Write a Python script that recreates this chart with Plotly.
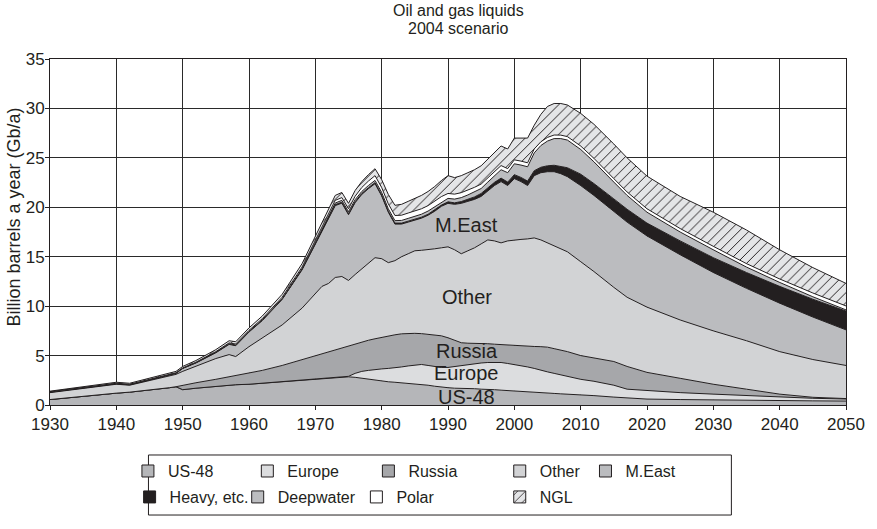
import plotly.graph_objects as go

# Oil and gas liquids production, 2004 scenario (Gb/a), stacked by source
years = [1930, 1935, 1940, 1942, 1945, 1948, 1949, 1950, 1952, 1955, 1957, 1958, 1960, 1962, 1965, 1968,
         1970, 1971, 1972, 1973, 1974, 1975, 1976, 1977, 1978, 1979,
         1980, 1981, 1982, 1983, 1984, 1985, 1986, 1987, 1988, 1989,
         1990, 1991, 1992, 1993, 1994, 1995, 1996, 1997, 1998, 1999,
         2000, 2001, 2002, 2003, 2004, 2005, 2006, 2007, 2008,
         2010, 2012, 2015, 2017, 2020, 2025, 2030, 2035, 2040, 2045, 2050]

us48 = [0.55, 0.9, 1.2, 1.3, 1.5, 1.75, 1.85, 1.55, 1.7, 1.9, 2.0, 2.05, 2.1, 2.2, 2.35, 2.5,
        2.6, 2.65, 2.7, 2.75, 2.8, 2.85, 2.8, 2.7, 2.6, 2.5,
        2.4, 2.35, 2.3, 2.25, 2.2, 2.15, 2.1, 2.0, 1.9, 1.8,
        1.75, 1.7, 1.7, 1.65, 1.65, 1.6, 1.6, 1.55, 1.5, 1.45,
        1.4, 1.38, 1.35, 1.3, 1.25, 1.2, 1.17, 1.13, 1.1,
        1.0, 0.95, 0.8, 0.7, 0.6, 0.55, 0.5, 0.47, 0.45, 0.42, 0.4]

europe = [0, 0, 0, 0, 0, 0, 0, 0, 0, 0, 0, 0, 0, 0, 0, 0,
          0, 0, 0, 0, 0, 0.05, 0.4, 0.7, 0.9, 1.1,
          1.25, 1.35, 1.45, 1.6, 1.75, 1.9, 2.0, 2.0, 2.0, 2.0,
          2.05, 2.2, 2.3, 2.45, 2.55, 2.65, 2.7, 2.75, 2.8, 2.75,
          2.7, 2.62, 2.5, 2.4, 2.25, 2.15, 2.03, 1.92, 1.8,
          1.6, 1.45, 1.2, 0.9, 0.85, 0.7, 0.6, 0.48, 0.35, 0.26, 0.2]

russia = [0, 0, 0, 0, 0, 0, 0, 0.45, 0.55, 0.7, 0.85, 0.9, 1.1, 1.3, 1.65, 2.1,
          2.4, 2.55, 2.7, 2.85, 3.0, 3.05, 2.95, 2.95, 3.05, 3.1,
          3.2, 3.3, 3.35, 3.35, 3.3, 3.2, 3.12, 3.15, 3.2, 3.2,
          3.0, 2.65, 2.3, 2.15, 2.05, 1.95, 1.9, 1.85, 1.8, 1.85,
          1.9, 1.97, 2.1, 2.22, 2.4, 2.5, 2.5, 2.5, 2.5,
          2.4, 2.35, 2.4, 2.3, 1.85, 1.45, 1.0, 0.65, 0.3, 0.1, 0.05]

other = [0.7, 0.8, 0.9, 0.7, 0.95, 1.2, 1.25, 1.4, 1.65, 2.1, 2.25, 1.95, 2.7, 3.3, 4.1, 5.2,
         6.3, 6.8, 6.9, 7.3, 7.2, 6.65, 7.05, 7.45, 7.85, 8.2,
         7.95, 7.4, 7.5, 7.8, 8.05, 8.35, 8.43, 8.55, 8.7, 8.9,
         9.2, 9.15, 9.0, 9.35, 9.65, 10.1, 10.5, 10.45, 10.3, 10.55,
         10.7, 10.78, 10.85, 10.98, 10.8, 10.55, 10.4, 10.25, 10.1,
         9.5, 8.75, 7.5, 7.0, 6.6, 5.9, 5.4, 4.9, 4.3, 3.82, 3.35]

meast = [0.04, 0.02, 0.04, 0.04, 0.07, 0.06, 0.1, 0.29, 0.35, 0.58, 1.03, 1.1, 1.48, 1.74, 2.58, 3.87,
         4.92, 5.56, 6.56, 7.27, 7.42, 6.65, 7.27, 7.5, 7.48, 7.49,
         6.35, 5.1, 3.7, 3.3, 3.2, 3.1, 3.25, 3.5, 3.8, 4.2,
         4.4, 4.6, 5.1, 5.0, 4.9, 4.8, 5.0, 5.6, 6.2, 5.6,
         6.2, 5.85, 5.4, 6.3, 6.8, 7.2, 7.5, 7.6, 7.6,
         7.7, 7.7, 7.7, 7.6, 7.2, 6.6, 5.9, 5.3, 4.9, 4.3, 3.6]

heavy = [0.03, 0.03, 0.03, 0.03, 0.03, 0.03, 0.03, 0.03, 0.04, 0.05, 0.05, 0.05, 0.05, 0.05, 0.05, 0.06,
         0.08, 0.08, 0.1, 0.1, 0.1, 0.1, 0.1, 0.1, 0.1, 0.1,
         0.1, 0.1, 0.1, 0.1, 0.1, 0.1, 0.1, 0.1, 0.12, 0.12,
         0.15, 0.15, 0.18, 0.2, 0.25, 0.3, 0.3, 0.32, 0.35, 0.35,
         0.4, 0.42, 0.45, 0.5, 0.55, 0.6, 0.65, 0.75, 0.9,
         1.15, 1.2, 1.25, 1.3, 1.3, 1.4, 1.5, 1.6, 1.7, 1.8, 1.9]

deepwater = [0, 0, 0, 0, 0, 0, 0, 0, 0, 0.02, 0.02, 0.02, 0.02, 0.02, 0.03, 0.05,
             0.1, 0.12, 0.14, 0.16, 0.18, 0.2, 0.2, 0.2, 0.22, 0.23,
             0.25, 0.25, 0.25, 0.27, 0.28, 0.3, 0.3, 0.32, 0.33, 0.34,
             0.35, 0.38, 0.4, 0.45, 0.5, 0.5, 0.55, 0.7, 0.85, 0.95,
             1.1, 1.25, 1.45, 1.8, 2.2, 2.5, 2.7, 2.8, 2.8,
             2.5, 2.2, 1.7, 1.4, 1.1, 0.9, 0.8, 0.55, 0.4, 0.25, 0.12]

polar = [0.03, 0.03, 0.03, 0.03, 0.03, 0.03, 0.03, 0.03, 0.04, 0.05, 0.08, 0.1, 0.1, 0.12, 0.14, 0.17,
         0.2, 0.22, 0.25, 0.27, 0.28, 0.3, 0.35, 0.4, 0.45, 0.48,
         0.5, 0.5, 0.52, 0.53, 0.54, 0.55, 0.55, 0.55, 0.55, 0.52,
         0.5, 0.5, 0.5, 0.48, 0.47, 0.45, 0.45, 0.43, 0.42, 0.41,
         0.4, 0.4, 0.4, 0.4, 0.38, 0.37, 0.36, 0.35, 0.35,
         0.35, 0.35, 0.35, 0.35, 0.35, 0.35, 0.35, 0.35, 0.35, 0.38, 0.4]

ngl = [0.05, 0.07, 0.1, 0.1, 0.12, 0.13, 0.14, 0.15, 0.17, 0.2, 0.22, 0.23, 0.25, 0.27, 0.3, 0.35,
       0.4, 0.42, 0.45, 0.5, 0.52, 0.55, 0.58, 0.6, 0.65, 0.7,
       0.8, 0.95, 1.03, 1.1, 1.18, 1.25, 1.35, 1.43, 1.5, 1.62,
       1.8, 1.67, 1.72, 1.77, 1.78, 1.85, 1.9, 1.95, 1.98, 1.99,
       2.2, 2.33, 2.5, 2.4, 2.77, 3.13, 3.19, 3.2, 3.2,
       3.3, 3.45, 3.5, 3.45, 3.3, 3.25, 3.45, 3.4, 2.95, 2.57, 2.28]

series_names = ["US-48", "Europe", "Russia", "Other", "M.East",
                "Heavy, etc.", "Deepwater", "Polar", "NGL"]
series_values = [us48, europe, russia, other, meast, heavy, deepwater, polar, ngl]
fill_colors = ["#b5b6b9", "#dcdddf", "#a6a7aa", "#d2d3d5", "#bbbcbf",
               "#231f20", "#bcbdc0", "#ffffff", "#e4e5e7"]

# in-chart region labels: (text, year, value)
region_labels = [("M.East", 1992.8, 18.2), ("Other", 1992.8, 10.9), ("Russia", 1992.8, 5.5),
                 ("Europe", 1992.8, 3.2), ("US-48", 1992.8, 0.85)]

title_lines = ["Oil and gas liquids", "2004 scenario"]
y_title = "Billion barrels a year (Gb/a)"

# legend entry placement (paper x of each entry, row)
legend_x = [0.0979, 0.2479, 0.4000, 0.5650, 0.6727,
            0.1000, 0.2358, 0.3849, 0.5650]
legend_row_y = [-0.191, -0.266]

INK = "#231f20"
FONT = "Liberation Sans, Arial, Helvetica, sans-serif"
NGL_PATTERN = dict(shape="/", fgcolor=INK, size=7, solidity=0.14, fillmode="replace")

fig = go.Figure()

# stacked areas
for name, vals, color in zip(series_names, series_values, fill_colors):
    kw = {}
    if name == "NGL":
        kw["fillpattern"] = dict(NGL_PATTERN, bgcolor=color)
    fig.add_trace(go.Scatter(
        x=years, y=vals, name=name, stackgroup="liquids", mode="lines",
        line=dict(color=INK, width=1.0), fillcolor=color, showlegend=False, **kw))

# square legend swatches, one small legend per entry
legend_layouts = {}
for i, (name, color) in enumerate(zip(series_names, fill_colors)):
    lid = "legend" if i == 0 else f"legend{i + 1}"
    marker = dict(color=color, line=dict(color=INK, width=1))
    if name == "NGL":
        marker["pattern"] = dict(NGL_PATTERN, bgcolor=color)
    fig.add_trace(go.Bar(x=[None], y=[None], name=name, marker=marker, legend=lid))
    legend_layouts[lid] = dict(
        orientation="h", x=legend_x[i], xanchor="left",
        y=legend_row_y[0 if i < 5 else 1], yanchor="middle",
        borderwidth=0, bgcolor="rgba(0,0,0,0)", itemwidth=30,
        font=dict(family=FONT, size=16, color=INK))

for text, xv, yv in region_labels:
    fig.add_annotation(x=xv, y=yv, text=text, showarrow=False,
                       font=dict(family=FONT, size=20, color=INK))

for text, yv in zip(title_lines, [1.139, 1.087]):
    fig.add_annotation(xref="paper", yref="paper", x=0.5131, y=yv, text=text,
                       showarrow=False, yanchor="middle",
                       font=dict(family="Liberation Sans Narrow, Arial Narrow, sans-serif",
                                 size=16, color=INK))

fig.add_annotation(xref="paper", yref="paper", x=-0.0447, y=0.543, text=y_title,
                   textangle=-90, showarrow=False, xanchor="center", yanchor="middle",
                   font=dict(family=FONT, size=18, color=INK))

# frame around both legend rows
fig.add_shape(type="rect", xref="paper", yref="paper", x0=0.1237, x1=0.856, y0=-0.318, y1=-0.1445,
              line=dict(color=INK, width=1), fillcolor="rgba(0,0,0,0)")

fig.update_layout(
    width=877, height=529,
    margin=dict(l=50, r=21, t=59, b=124),
    paper_bgcolor="white", plot_bgcolor="white",
    font=dict(family=FONT, color=INK),
    showlegend=True,
    **legend_layouts,
)
fig.update_xaxes(range=[1930, 2050], dtick=10, tick0=1930, showgrid=True, gridcolor="#2a2a2a",
                 gridwidth=1, showline=True, linecolor=INK, linewidth=1, mirror=True,
                 ticks="outside", ticklen=4, tickcolor=INK, zeroline=False,
                 tickfont=dict(family=FONT, size=17, color=INK))
fig.update_yaxes(range=[0, 35], dtick=5, showgrid=True, gridcolor="#2a2a2a", gridwidth=1,
                 showline=True, linecolor=INK, linewidth=1, mirror=True,
                 ticks="outside", ticklen=4, tickcolor=INK, zeroline=False,
                 ticklabelstandoff=-3,
                 tickfont=dict(family=FONT, size=17, color=INK))

fig.write_html("out.html")
